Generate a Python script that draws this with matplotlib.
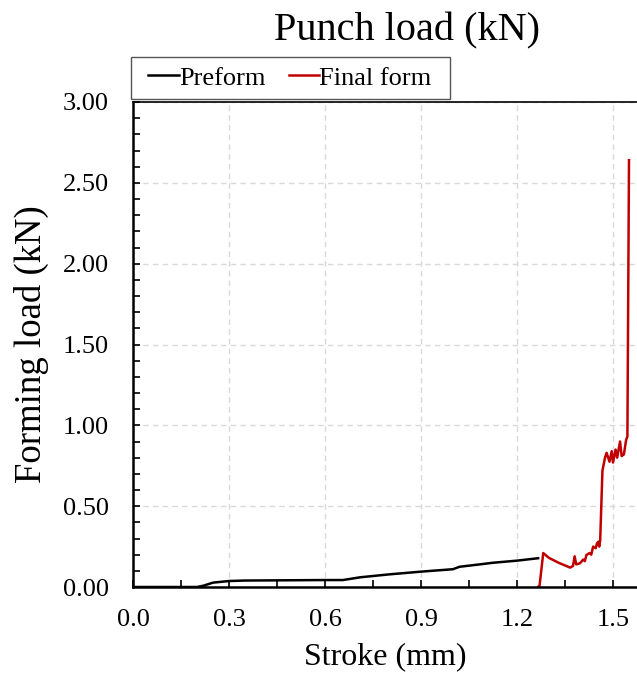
import matplotlib.pyplot as plt
from matplotlib.ticker import MultipleLocator
from matplotlib.patches import Rectangle

plt.rcParams['font.family'] = ['Liberation Serif', 'DejaVu Serif']

# Preform curve (stroke mm, load kN)
pre_x = [0.0, 0.20, 0.22, 0.25, 0.30, 0.35, 0.60, 0.656, 0.71, 0.80, 0.90,
         1.00, 1.02, 1.084, 1.125, 1.20, 1.266]
pre_y = [0.0, 0.0, 0.008, 0.027, 0.037, 0.040, 0.043, 0.043, 0.060, 0.078, 0.095,
         0.110, 0.125, 0.140, 0.150, 0.163, 0.178]

# Final form curve
fin_x = [1.266, 1.270, 1.282, 1.30, 1.33, 1.366, 1.375, 1.380, 1.385, 1.397,
         1.407, 1.412, 1.417, 1.427, 1.432, 1.438, 1.446, 1.450, 1.454, 1.457,
         1.460, 1.467, 1.475, 1.480, 1.489, 1.496, 1.500, 1.508, 1.513, 1.522,
         1.527, 1.534, 1.541, 1.545, 1.550]
fin_y = [0.0, 0.0, 0.21, 0.18, 0.15, 0.12, 0.13, 0.19, 0.14, 0.147,
         0.17, 0.16, 0.198, 0.21, 0.20, 0.25, 0.24, 0.27, 0.28, 0.25,
         0.29, 0.72, 0.80, 0.83, 0.775, 0.84, 0.77, 0.85, 0.80, 0.90,
         0.81, 0.82, 0.91, 0.93, 2.64]

W, H = 637, 675
fig = plt.figure(figsize=(W / 100, H / 100), dpi=100)
ax = fig.add_axes([133/W, 88/H, 1 - 133/W, 485/H])

ax.plot(pre_x, pre_y, color='black', lw=1.8, label='Preform')
ax.plot(fin_x, fin_y, color='#c00000', lw=1.8, label='Final form')

ax.set_xlim(0, 1.575)
ax.set_ylim(0, 3.0)
ax.xaxis.set_major_locator(MultipleLocator(0.3))
ax.xaxis.set_minor_locator(MultipleLocator(0.15))
ax.yaxis.set_major_locator(MultipleLocator(0.5))
ax.yaxis.set_minor_locator(MultipleLocator(0.1))
ax.xaxis.set_major_formatter(plt.FuncFormatter(lambda v, p: f'{v:.1f}'))
ax.yaxis.set_major_formatter(plt.FuncFormatter(lambda v, p: f'{v:.2f}'))
ax.tick_params(which='both', direction='in', length=5, width=1.2, labelsize=19,
               top=False, right=False)
ax.tick_params(axis='x', which='major', pad=16)
ax.tick_params(axis='y', which='major', pad=17.5)
ax.grid(True, which='major', linestyle=(0, (4, 3)), color='#d9d9d9', lw=1)

ax.spines['right'].set_visible(False)
ax.spines['left'].set_linewidth(1.8)
ax.spines['bottom'].set_linewidth(1.8)
ax.spines['top'].set_linewidth(1.2)

ax.set_xlabel('Stroke (mm)', fontsize=23, labelpad=8)
ax.set_ylabel('Forming load (kN)', fontsize=26.5, labelpad=10)

fig.text(407/W, 1 - 31/H, 'Punch load (kN)', fontsize=29, ha='center', va='center')

# legend without frame, box drawn separately (wider side padding than top/bottom)
leg = fig.legend(loc='center', bbox_to_anchor=(290/W, 1 - 78/H), ncol=2, fontsize=19,
                 frameon=False, handlelength=1.15, handletextpad=0.0,
                 columnspacing=0.9, borderpad=0.0)
fig.patches.append(Rectangle((131/W, 1 - 99/H), 319/W, 42/H, transform=fig.transFigure,
                             fill=False, edgecolor='#555555', lw=1.0))

fig.savefig('out.png', dpi=100)
